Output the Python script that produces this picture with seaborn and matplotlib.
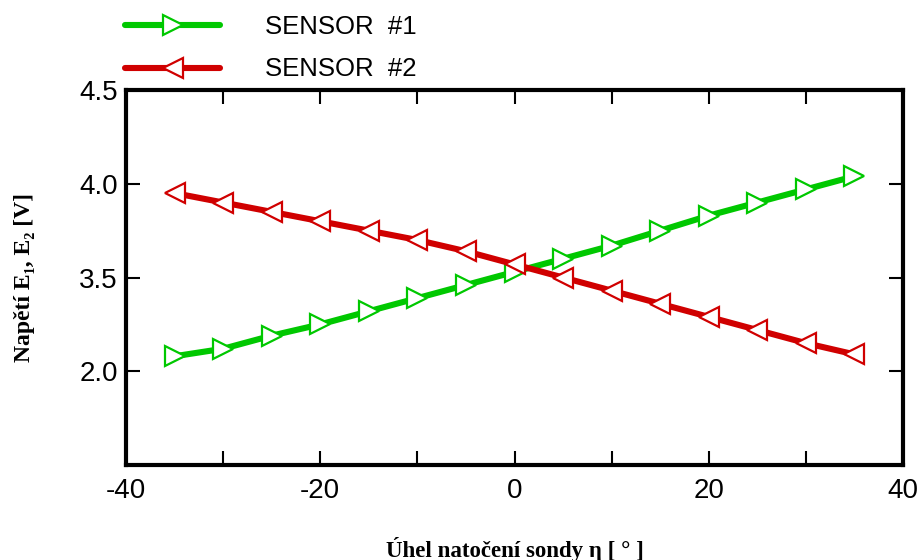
import numpy as np
import pandas as pd
import matplotlib
matplotlib.use("Agg")
import matplotlib.pyplot as plt
import seaborn as sns
from matplotlib.ticker import MultipleLocator

sns.set_theme(style="white")
plt.rcParams['font.family'] = ['Liberation Sans', 'DejaVu Sans']
plt.rcParams['text.color'] = 'black'
plt.rcParams['xtick.color'] = 'black'
plt.rcParams['ytick.color'] = 'black'
plt.rcParams['axes.labelcolor'] = 'black'

angles = [-35, -30, -25, -20, -15, -10, -5, 0, 5, 10, 15, 20, 25, 30, 35]
sensor1 = [3.08, 3.12, 3.19, 3.25, 3.32, 3.39, 3.46, 3.53, 3.60, 3.67, 3.75, 3.83, 3.90, 3.97, 4.04]
sensor2 = [3.95, 3.90, 3.85, 3.80, 3.75, 3.70, 3.64, 3.57, 3.50, 3.43, 3.36, 3.29, 3.22, 3.15, 3.09]
series_names = ["SENSOR  #1", "SENSOR  #2"]
y_ticks = [2.5, 3.0, 3.5, 4.0, 4.5]
y_tick_labels = ["", "2.0", "3.5", "4.0", "4.5"]
x_ticks = [-40, -20, 0, 20, 40]

df1 = pd.DataFrame({"angle": angles, "value": sensor1})
df2 = pd.DataFrame({"angle": angles, "value": sensor2})

fig = plt.figure(figsize=(9.23, 5.6), dpi=100)
ax = fig.add_axes([126/923, 1-465/560, (903-126)/923, (465-90)/560])

green = "#00C800"
red = "#D00000"
sns.lineplot(data=df1, x="angle", y="value", ax=ax, color=green, lw=4.4,
             marker=">", markersize=15, markerfacecolor="white",
             markeredgecolor=green, markeredgewidth=1.6, label=series_names[0])
sns.lineplot(data=df2, x="angle", y="value", ax=ax, color=red, lw=4.4,
             marker="<", markersize=15, markerfacecolor="white",
             markeredgecolor=red, markeredgewidth=1.6, label=series_names[1])

ax.set_xlim(-40, 40)
ax.set_ylim(2.5, 4.5)
ax.set_xticks(x_ticks)
ax.set_xticklabels([str(t) for t in x_ticks])
ax.xaxis.set_minor_locator(MultipleLocator(10))
ax.set_yticks(y_ticks)
ax.set_yticklabels(y_tick_labels)

for s in ax.spines.values():
    s.set_visible(True)
    s.set_color("black")
    s.set_linewidth(3)

ax.tick_params(axis="both", which="both", direction="in", top=True, right=True,
               bottom=True, left=True, color="black", labelcolor="black")
ax.tick_params(axis="both", which="major", length=10, width=1.5, labelsize=20, pad=9)
ax.tick_params(axis="x", which="minor", length=10, width=1.5)
ax.tick_params(axis="y", which="major", pad=6)

serif = ["Liberation Serif", "DejaVu Serif"]
ax.set_xlabel("Úhel natočení sondy η [ ° ]", family=serif,
              fontweight="bold", fontsize=16.5, labelpad=24, color="black")
ax.set_ylabel("Napětí E₁, E₂ [V]", family=serif,
              fontweight="bold", fontsize=17, labelpad=32, color="black")

leg = ax.legend(loc="upper left", bbox_to_anchor=(125/923, 1-15/560), bbox_transform=fig.transFigure,
                frameon=False, fontsize=18.5, handlelength=3.7, handletextpad=1.75,
                labelspacing=0.72, borderpad=0, borderaxespad=0, numpoints=1)
for t in leg.get_texts():
    t.set_color("black")

fig.savefig("out.png", dpi=100)
